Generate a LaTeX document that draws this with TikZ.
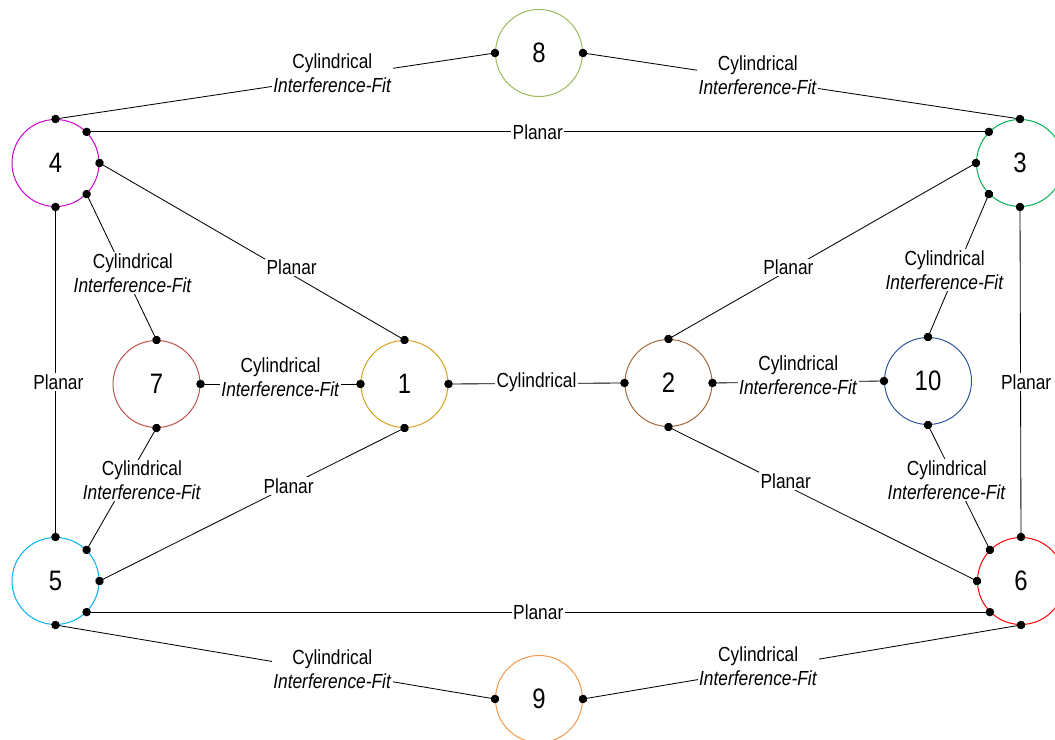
\documentclass[tikz,border=0pt]{standalone}
\usepackage{fontspec}
\setmainfont{Liberation Sans}[FakeStretch=0.85]
\usetikzlibrary{arrows.meta}
\definecolor{c1}{HTML}{D6A21E}
\definecolor{c2}{HTML}{A0673A}
\definecolor{c3}{HTML}{00B050}
\definecolor{c4}{HTML}{CC00CC}
\definecolor{c5}{HTML}{00B0F0}
\definecolor{c6}{HTML}{FF0000}
\definecolor{c7}{HTML}{C0504D}
\definecolor{c8}{HTML}{9BBB59}
\definecolor{c9}{HTML}{F79646}
\definecolor{c10}{HTML}{2F5597}
\newcommand{\cif}{Cylindrical\\\textit{Interference-Fit}}
\begin{document}
\begin{tikzpicture}[x=0.025cm,y=-0.025cm,
  part/.style={circle,draw=#1,line width=0.7pt,minimum size=2.175cm,inner sep=0pt,font=\fontsize{20}{24}\selectfont},
  joint/.style={line width=0.6pt,{Circle[length=6pt]}-{Circle[length=6pt]},shorten <=-3pt,shorten >=-3pt},
  lbl/.style={fill=white,inner sep=1pt,align=center,font=\fontsize{14.5}{17}\selectfont}]
\clip (0,0) rectangle (1055,740);
% parts
\node[part=c8] (n8) at (539,53) {8};
\node[part=c4] (n4) at (55.5,163) {4};
\node[part=c3] (n3) at (1020,163) {3};
\node[part=c7] (n7) at (156.5,384) {7};
\node[part=c1] (n1) at (404.5,384) {1};
\node[part=c2] (n2) at (668.5,383) {2};
\node[part=c10] (n10) at (928,381) {10};
\node[part=c5] (n5) at (55.5,581) {5};
\node[part=c6] (n6) at (1021,581) {6};
\node[part=c9] (n9) at (539,699) {9};
% joints
\draw[joint] (n4.north) -- node[lbl,pos=0.63,yshift=3pt]{\cif} (n8.west);
\draw[joint] (n8.east) -- node[lbl,pos=0.4,yshift=3pt]{\cif} (n3.north);
\draw[joint] (n4.45) -- node[lbl]{Planar} (n3.135);
\draw[joint] (n4.east) -- node[lbl,pos=0.63,yshift=5pt]{Planar} (n1.north);
\draw[joint] (n4.-45) -- node[lbl,pos=0.54,xshift=6pt]{\cif} (n7.north);
\draw[joint] (n4.south) -- node[lbl,pos=0.53,xshift=2pt]{Planar} (n5.north);
\draw[joint] (n7.east) -- node[lbl,yshift=5pt]{\cif} (n1.west);
\draw[joint] (n7.south) -- node[lbl,pos=0.43,xshift=11pt]{\cif} (n5.45);
\draw[joint] (n1.south) -- node[lbl,pos=0.38]{Planar} (n5.east);
\draw[joint] (n1.east) -- node[lbl,yshift=1pt]{Cylindrical} (n2.west);
\draw[joint] (n2.north) -- node[lbl,pos=0.39,yshift=2pt]{Planar} (n3.west);
\draw[joint] (n2.east) -- node[lbl,yshift=5pt]{\cif} (n10.west);
\draw[joint] (n10.north) -- node[lbl,pos=0.47,xshift=-8.5pt]{\cif} (n3.-135);
\draw[joint] (n3.south) -- node[lbl,pos=0.53,xshift=4pt]{Planar} (n6.north);
\draw[joint] (n2.south) -- node[lbl,pos=0.38,yshift=3pt]{Planar} (n6.west);
\draw[joint] (n10.south) -- node[lbl,pos=0.44,xshift=-6pt]{\cif} (n6.135);
\draw[joint] (n5.-45) -- node[lbl]{Planar} (n6.-135);
\draw[joint] (n5.south) -- node[lbl,pos=0.63,yshift=2pt]{\cif} (n9.west);
\draw[joint] (n9.east) -- node[lbl,pos=0.4,yshift=2pt]{\cif} (n6.south);
\end{tikzpicture}
\end{document}
